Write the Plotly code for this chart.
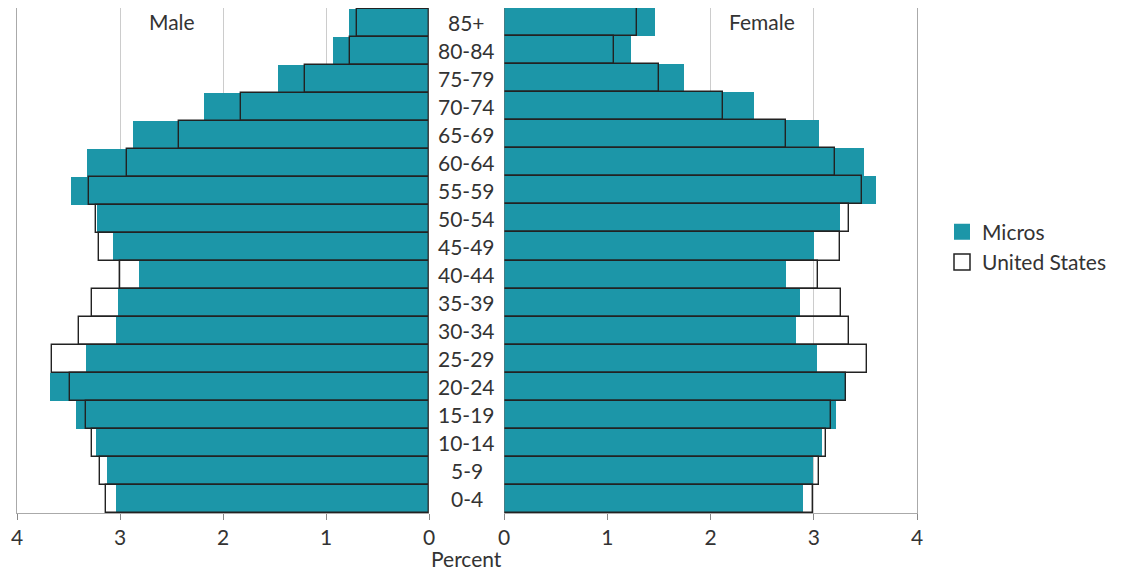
import plotly.graph_objects as go

ages = ["0-4", "5-9", "10-14", "15-19", "20-24", "25-29", "30-34", "35-39",
        "40-44", "45-49", "50-54", "55-59", "60-64", "65-69", "70-74",
        "75-79", "80-84", "85+"]

male_micros = [3.04, 3.13, 3.23, 3.43, 3.68, 3.33, 3.04, 3.02, 2.82, 3.07,
               3.22, 3.48, 3.32, 2.87, 2.18, 1.47, 0.93, 0.78]
male_us = [3.14, 3.19, 3.27, 3.33, 3.49, 3.66, 3.40, 3.27, 3.00, 3.20,
           3.23, 3.30, 2.93, 2.43, 1.83, 1.20, 0.77, 0.70]
female_micros = [2.90, 2.99, 3.08, 3.22, 3.31, 3.03, 2.83, 2.87, 2.73, 3.00,
                 3.25, 3.60, 3.49, 3.05, 2.42, 1.74, 1.23, 1.46]
female_us = [2.99, 3.05, 3.12, 3.17, 3.31, 3.52, 3.34, 3.26, 3.04, 3.25,
             3.34, 3.47, 3.21, 2.73, 2.12, 1.50, 1.07, 1.29]

x_ticks = [0, 1, 2, 3, 4]
panel_titles = ["Male", "Female"]
series_names = ["Micros", "United States"]

TEAL = "#1c96a8"
TXT = "#333333"
FONT = "Lato"
FS = 21

fig = go.Figure()

us_marker = dict(color="rgba(0,0,0,0)", line=dict(color="#222222", width=1.4))
mi_marker = dict(color=TEAL, line=dict(width=0))

fig.add_trace(go.Bar(y=ages, x=male_micros, orientation="h", name=series_names[0],
                     marker=mi_marker, xaxis="x", yaxis="y", showlegend=False))
fig.add_trace(go.Bar(y=ages, x=male_us, orientation="h", name=series_names[1],
                     marker=us_marker, xaxis="x", yaxis="y", showlegend=False))
fig.add_trace(go.Bar(y=ages, x=female_micros, orientation="h", name=series_names[0],
                     marker=mi_marker, xaxis="x2", yaxis="y2", showlegend=False))
fig.add_trace(go.Bar(y=ages, x=female_us, orientation="h", name=series_names[1],
                     marker=us_marker, xaxis="x2", yaxis="y2", showlegend=False))

# legend entries (legend-only)
fig.add_trace(go.Scatter(x=[None], y=[None], mode="markers", name=series_names[0],
                         marker=dict(symbol="square", size=18, color=TEAL,
                                     line=dict(width=0)),
                         xaxis="x2", yaxis="y2"))
fig.add_trace(go.Scatter(x=[None], y=[None], mode="markers", name=series_names[1],
                         marker=dict(symbol="square", size=18, color="white",
                                     line=dict(color="#222222", width=1.5)),
                         xaxis="x2", yaxis="y2"))

# page body offset of ~8px is compensated in the margins
OFF = 8
W, H = 1134 - OFF, 571 - OFF
L, T = 17 - OFF, 0
R = W - (917 - OFF)
B = H - (513 - OFF)
pw = W - L - R
ph = H - T - B


def px_x(sx):
    return (sx - OFF - L) / pw


def px_y(sy):
    return (513 - sy) / ph


left_dom = [0, px_x(429)]
right_dom = [px_x(504), 1]

axis_common = dict(
    tickvals=x_ticks, ticktext=[str(t) for t in x_ticks],
    showgrid=True, gridcolor="#cccccc", gridwidth=1,
    zeroline=False, showline=True, linecolor="#aaaaaa", linewidth=1,
    ticks="outside", ticklen=6, tickcolor="#888888",
    tickfont=dict(family=FONT, size=FS, color=TXT),
)

fig.update_layout(
    width=W, height=H,
    margin=dict(l=L, r=R, t=T, b=B),
    paper_bgcolor="white", plot_bgcolor="white",
    barmode="overlay", bargap=0,
    showlegend=True,
    legend=dict(x=px_x(942), xanchor="left", y=px_y(247),
                yanchor="middle", font=dict(family=FONT, size=FS, color=TXT),
                bgcolor="rgba(0,0,0,0)", tracegroupgap=0, itemsizing="trace"),
    xaxis=dict(domain=left_dom, range=[4, 0], anchor="y", **axis_common),
    xaxis2=dict(domain=right_dom, range=[0, 4], anchor="y2", **axis_common),
    yaxis=dict(anchor="x", showticklabels=False, showgrid=False, showline=True,
               linecolor="#aaaaaa", side="left", ticks="", categoryorder="array",
               categoryarray=ages),
    yaxis2=dict(anchor="x2", showticklabels=False, showgrid=False, showline=True,
                linecolor="#aaaaaa", side="right", ticks="", categoryorder="array",
                categoryarray=ages),
)

fig.add_shape(type="line", xref="x", yref="paper", x0=0, x1=0, y0=0, y1=1,
              line=dict(color="#666666", width=1))
fig.add_shape(type="line", xref="x2", yref="paper", x0=0, x1=0, y0=0, y1=1,
              line=dict(color="#666666", width=1))

center_x = px_x((429 + 504) / 2)
for a in ages:
    fig.add_annotation(x=center_x, xref="paper", y=a, yref="y", text=a,
                       showarrow=False, xanchor="center", yanchor="middle",
                       font=dict(family=FONT, size=FS, color=TXT))

fig.add_annotation(x=2.5, xref="x", y=1, yref="paper", text=panel_titles[0],
                   showarrow=False, yanchor="top", yshift=0, borderpad=0,
                   font=dict(family=FONT, size=FS, color=TXT))
fig.add_annotation(x=2.5, xref="x2", y=1, yref="paper", text=panel_titles[1],
                   showarrow=False, yanchor="top", yshift=0, borderpad=0,
                   font=dict(family=FONT, size=FS, color=TXT))
fig.add_annotation(x=center_x, xref="paper", y=0, yref="paper", text="Percent",
                   showarrow=False, yanchor="top", yshift=-31,
                   font=dict(family=FONT, size=FS, color=TXT))

fig.write_html("out.html")
